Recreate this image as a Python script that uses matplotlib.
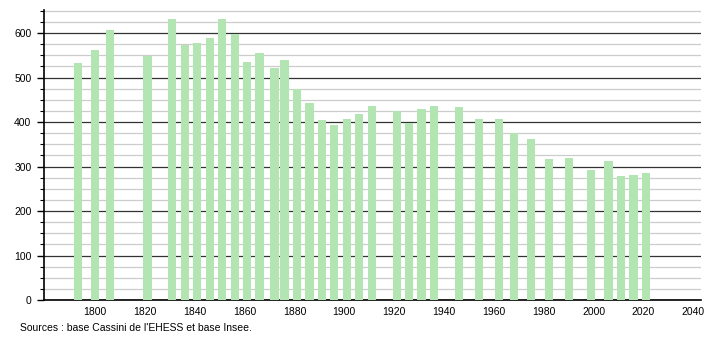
import matplotlib.pyplot as plt
from matplotlib.ticker import MultipleLocator

plt.rcParams['font.family'] = ['Liberation Sans', 'DejaVu Sans']

years = [1793, 1800, 1806, 1821, 1831, 1836, 1841, 1846, 1851, 1856,
         1861, 1866, 1872, 1876, 1881, 1886, 1891, 1896, 1901, 1906,
         1911, 1921, 1926, 1931, 1936, 1946, 1954, 1962, 1968, 1975,
         1982, 1990, 1999, 2006, 2011, 2016, 2021]
population = [532, 562, 608, 549, 631, 574, 577, 588, 631, 598,
              535, 555, 521, 539, 474, 444, 404, 393, 407, 418,
              437, 424, 399, 429, 437, 435, 407, 407, 375, 362,
              318, 319, 292, 312, 279, 282, 285]
year_ticks = list(range(1800, 2041, 20))
source_text = "Sources : base Cassini de l'EHESS et base Insee."

fig = plt.figure(figsize=(7.1, 3.4), dpi=100)
ax = fig.add_axes([44 / 710, 40 / 340, (700.7 - 44) / 710, 290 / 340])

ax.bar(years, population, width=3.3, color='#b2e5b2', zorder=3)

ax.set_xlim(1779.5, 2043)
ax.set_ylim(0, 652)
ax.set_xticks(year_ticks)
ax.yaxis.set_major_locator(MultipleLocator(100))
ax.yaxis.set_minor_locator(MultipleLocator(25))
ax.set_yticks(range(0, 601, 100))

ax.grid(axis='y', which='minor', color='#cccccc', linewidth=0.9, zorder=1)
ax.grid(axis='y', which='major', color='#333333', linewidth=0.9, zorder=2)

for s in ['top', 'right']:
    ax.spines[s].set_visible(False)
ax.spines['left'].set_linewidth(1.2)
ax.spines['bottom'].set_linewidth(1.2)

ax.tick_params(axis='y', which='major', length=5, width=1, labelsize=7.5, pad=4)
ax.tick_params(axis='y', which='minor', length=3, width=0.8)
ax.tick_params(axis='x', length=0, labelsize=7.5, pad=5)

fig.text(20 / 710, 1 - 328 / 340, source_text, fontsize=7.5, va='center', ha='left')

fig.savefig('out.png', dpi=100)
